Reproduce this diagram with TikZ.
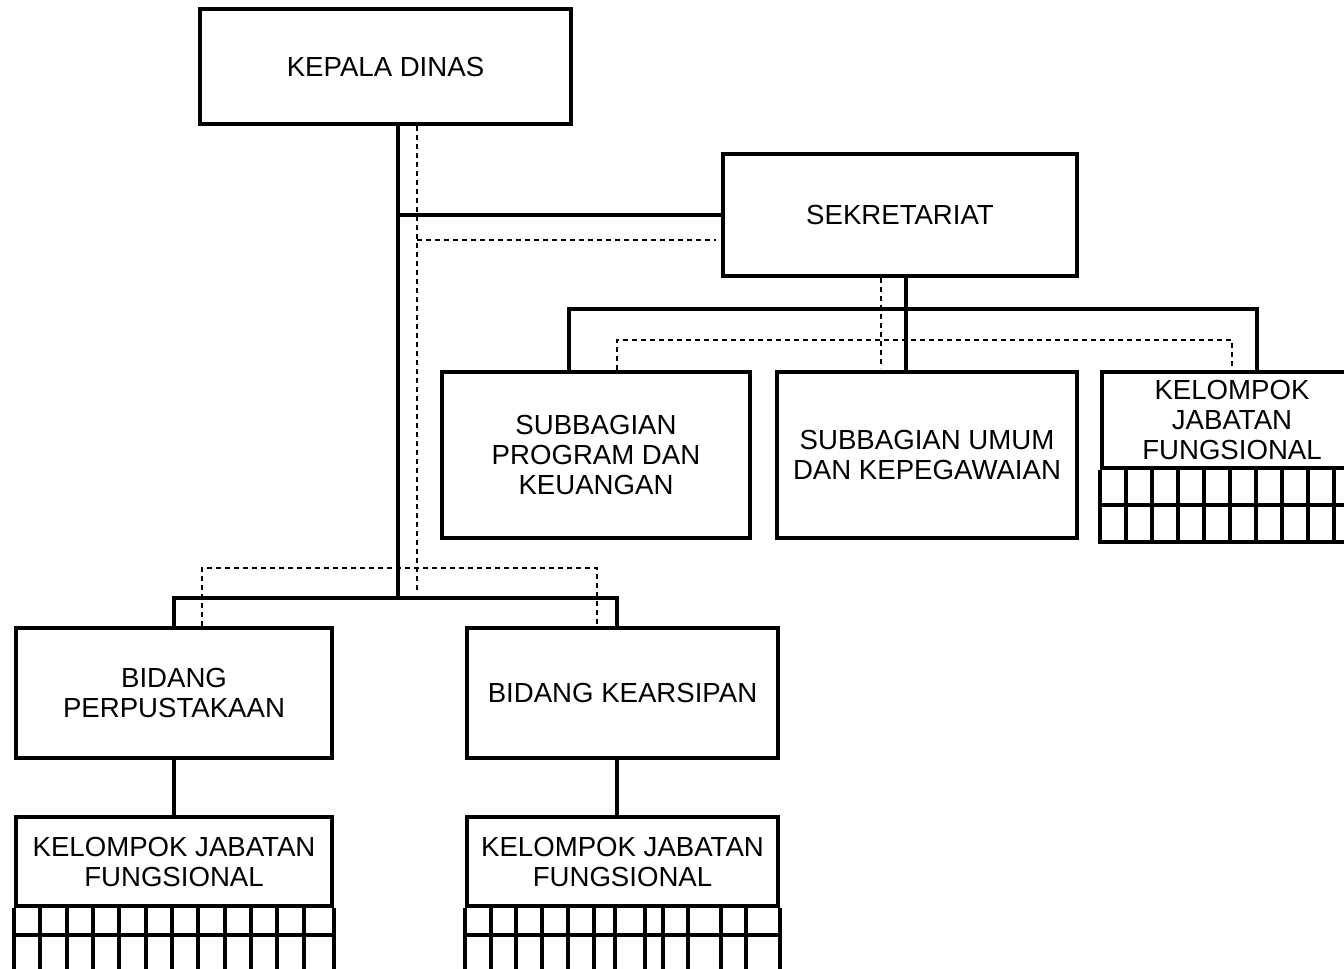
\documentclass[tikz,border=0pt]{standalone}
\usepackage{fontspec}
\setmainfont{Liberation Sans}
\usetikzlibrary{positioning}

\tikzset{
  unit/.style={draw, line width=2pt, align=center, inner sep=0pt, font=\fontsize{13.8}{15}\selectfont},
  solidline/.style={line width=2pt},
  dashline/.style={line width=1pt, dash pattern=on 2.5pt off 2pt},
}

\begin{document}
\begin{tikzpicture}[x=0.5pt, y=-0.5pt]
\useasboundingbox (0,0) rectangle (1344,969);
\begin{scope}
\clip (0,0) rectangle (1344,969);
% top level
\node[unit, minimum width=185.5pt, minimum height=57.5pt] (kadis) at (385.5,66.5) {KEPALA DINAS};
\node[unit, minimum width=177pt, minimum height=61pt] (sekr) at (900,215) {SEKRETARIAT};
% under sekretariat
\node[unit, minimum width=154pt, minimum height=83pt] (sprog) at (596,455) {SUBBAGIAN\\PROGRAM DAN\\KEUANGAN};
\node[unit, minimum width=150pt, minimum height=83pt] (sumum) at (927,455) {SUBBAGIAN UMUM\\DAN KEPEGAWAIAN};
\node[unit, minimum width=130pt, minimum height=48pt] (kjfsekr) at (1232,420) {KELOMPOK\\JABATAN\\FUNGSIONAL};
% bidang
\node[unit, minimum width=158pt, minimum height=65pt] (bperp) at (174,693) {BIDANG\\PERPUSTAKAAN};
\node[unit, minimum width=155.5pt, minimum height=65pt] (barsip) at (622.5,693) {BIDANG KEARSIPAN};
\node[unit, minimum width=158pt, minimum height=44.5pt, below=27.5pt of bperp] (kjfperp) {KELOMPOK JABATAN\\FUNGSIONAL};
\node[unit, minimum width=155.5pt, minimum height=44.5pt, below=27.5pt of barsip] (kjfarsip) {KELOMPOK JABATAN\\FUNGSIONAL};

% junctions
\coordinate (tk) at (398,598);
\coordinate (sk) at (906,309);
\coordinate (sl) at (569,309);
\coordinate (sr) at (1257,309);
\coordinate (d1) at (417,590);
\coordinate (ds) at (417,240);
\coordinate (dbl) at (202,568);
\coordinate (dbr) at (597,568);
\coordinate (dsv) at (881,368);
\coordinate (dsl) at (617,340);
\coordinate (dsr) at (1232,340);

% solid lines
\draw[solidline] (kadis.south -| tk) -- (tk);
\draw[solidline] (sekr.west) -- (sekr.west -| tk);
\draw[solidline] (bperp.north) |- (tk) -| ([xshift=-3pt]barsip.north);
\draw[solidline] (bperp.south) -- (kjfperp.north);
\draw[solidline] ([xshift=-3pt]barsip.south) -- ([xshift=-3pt]kjfarsip.north);
\draw[solidline] (sekr.south -| sk) -- (sumum.north -| sk);
\draw[solidline] (sprog.north -| sl) -- (sl) -- (sr) -- (kjfsekr.north -| sr);

% dashed lines
\draw[dashline] (kadis.south -| d1) -- (d1);
\draw[dashline] (ds) -- ([xshift=-2.5pt]sekr.west |- ds);
\draw[dashline] (bperp.north -| dbl) -- (dbl) -- (dbr) -- (barsip.north -| dbr);
\draw[dashline] (sekr.south -| dsv) -- (dsv);
\draw[dashline] (sprog.north -| dsl) -- (dsl) -- (dsr) -- (kjfsekr.north -| dsr);

% grids
\draw[solidline] (kjfsekr.south west) -- ++(0,72) -| (kjfsekr.south east);
\draw[solidline] ([yshift=-17.5pt]kjfsekr.south west) -- ([yshift=-17.5pt]kjfsekr.south east);
\foreach \k in {1,...,9}
  \draw[solidline] ([xshift=\k*13pt]kjfsekr.south west) -- ++(0,72);

\draw[solidline] (kjfperp.south west) -- ++(0,80);
\draw[solidline] (kjfperp.south east) -- ++(0,80);
\draw[solidline] ([yshift=-13.5pt]kjfperp.south west) -- ([yshift=-13.5pt]kjfperp.south east);
\foreach \k in {1,...,11}
  \draw[solidline] ([xshift=\k*13.17pt]kjfperp.south west) -- ++(0,80);

\draw[solidline] (kjfarsip.south west) -- ++(0,80);
\draw[solidline] (kjfarsip.south east) -- ++(0,80);
\draw[solidline] ([yshift=-13.5pt]kjfarsip.south west) -- ([yshift=-13.5pt]kjfarsip.south east);
\foreach \c in {26,51,77,103,129,150,180,198,223,256,281}
  \draw[solidline] ([xshift=\c*0.5pt]kjfarsip.south west) -- ++(0,80);
\end{scope}
\end{tikzpicture}
\end{document}
